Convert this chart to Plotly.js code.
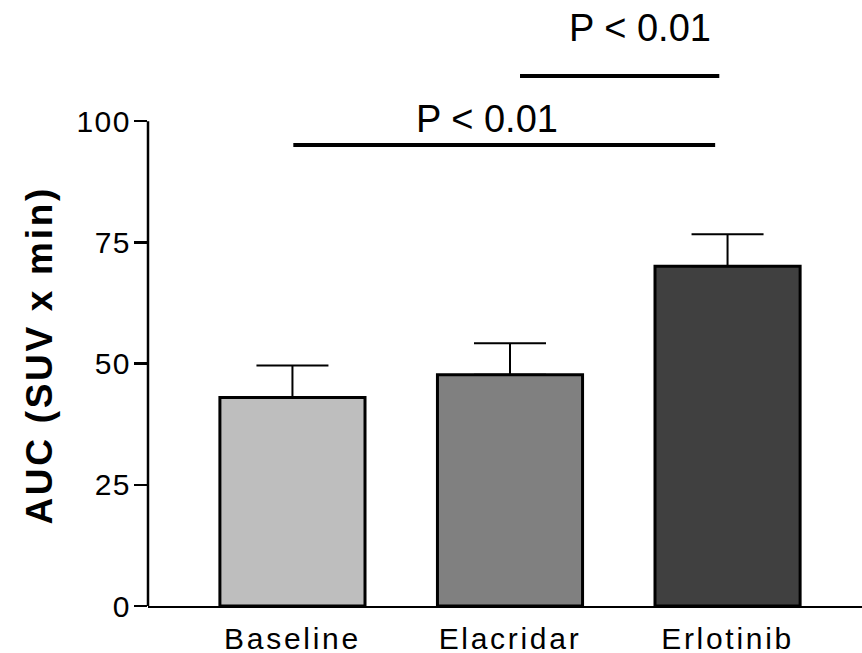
<!DOCTYPE html>
<html>
<head>
<meta charset="utf-8">
<script src="https://cdn.plot.ly/plotly-3.0.1.min.js"></script>
<style>
  html, body { margin: 0; padding: 0; background: #fff; }
  #chart { width: 862px; height: 653px; }
</style>
</head>
<body>
<div id="chart"></div>
<script>
// ---- data ----
var categories = ['Baseline', 'Elacridar', 'Erlotinib'];
var means = [43.0, 47.7, 70.1];
var sem = [6.6, 6.5, 6.6];
var barColors = ['#bebebe', '#808080', '#404040'];
var yTicks = [0, 25, 50, 75, 100];
var yTitle = 'AUC (SUV x min)';

// significance comparisons
var sigY = [95.1, 109.3];
var sigX0 = [0.004, 1.046];
var sigX1 = [1.943, 1.962];
var sigLabels = ['P < 0.01', 'P < 0.01'];
var sigLabelX = [0.892, 1.598];
var sigLabelY = [100.5, 119.3];

var FONT = 'Liberation Sans, Arial, Helvetica, sans-serif';

var trace = {
  type: 'bar',
  x: categories,
  y: means,
  width: 0.667,
  marker: { color: barColors, line: { color: '#000', width: 3 } },
  error_y: {
    type: 'data', symmetric: false, array: sem,
    arrayminus: sem.map(function () { return 0; }),
    color: '#000', thickness: 2, width: 36
  },
  hoverinfo: 'x+y'
};

var shapes = [{
  type: 'line', xref: 'paper', yref: 'y',
  x0: 0, x1: 0, y0: yTicks[0], y1: yTicks[yTicks.length - 1],
  line: { color: '#000', width: 2.5 }
}];
var annotations = [{
  text: yTitle, xref: 'paper', yref: 'y', x: -0.152, y: 51.8,
  xanchor: 'center', yanchor: 'middle', textangle: -90, showarrow: false,
  font: { family: FONT, size: 37, color: '#000', weight: 'bold' }
}];
for (var i = 0; i < sigY.length; i++) {
  shapes.push({
    type: 'line', xref: 'x', yref: 'y',
    x0: sigX0[i], x1: sigX1[i], y0: sigY[i], y1: sigY[i],
    line: { color: '#000', width: 4 }
  });
  annotations.push({
    text: sigLabels[i], xref: 'x', yref: 'y', x: sigLabelX[i], y: sigLabelY[i],
    xanchor: 'center', yanchor: 'middle', showarrow: false,
    font: { family: FONT, size: 38, color: '#000' }
  });
}

var layout = {
  width: 862, height: 653,
  margin: { l: 148, r: 0, t: 0, b: 47 },
  paper_bgcolor: '#fff', plot_bgcolor: '#fff',
  showlegend: false,
  font: { family: FONT, color: '#000' },
  xaxis: {
    type: 'category', range: [-0.664, 2.618],
    showline: true, linecolor: '#000', linewidth: 2,
    ticks: '', showgrid: false, zeroline: false, automargin: false,
    ticklabelstandoff: 5,
    tickfont: { family: FONT, size: 30, color: '#000' }
  },
  yaxis: {
    range: [0, 125], tickvals: yTicks, ticktext: yTicks.map(String),
    ticks: 'outside', ticklen: 13, tickwidth: 2.5, tickcolor: '#000',
    showline: false, showgrid: false, zeroline: false, automargin: false,
    ticklabelstandoff: -3,
    tickfont: { family: FONT, size: 30, color: '#000' }
  },
  shapes: shapes,
  annotations: annotations
};

Plotly.newPlot('chart', [trace], layout, { displayModeBar: false, staticPlot: true }).then(function (gd) {
  gd.querySelectorAll('.xtick text').forEach(function (t) { t.style.letterSpacing = '2.7px'; });
  gd.querySelectorAll('.ytick text').forEach(function (t) { t.style.letterSpacing = '1.5px'; });
  var ann = gd.querySelectorAll('.annotation-text');
  if (ann[0]) ann[0].style.letterSpacing = '2.7px';
});
</script>
</body>
</html>
